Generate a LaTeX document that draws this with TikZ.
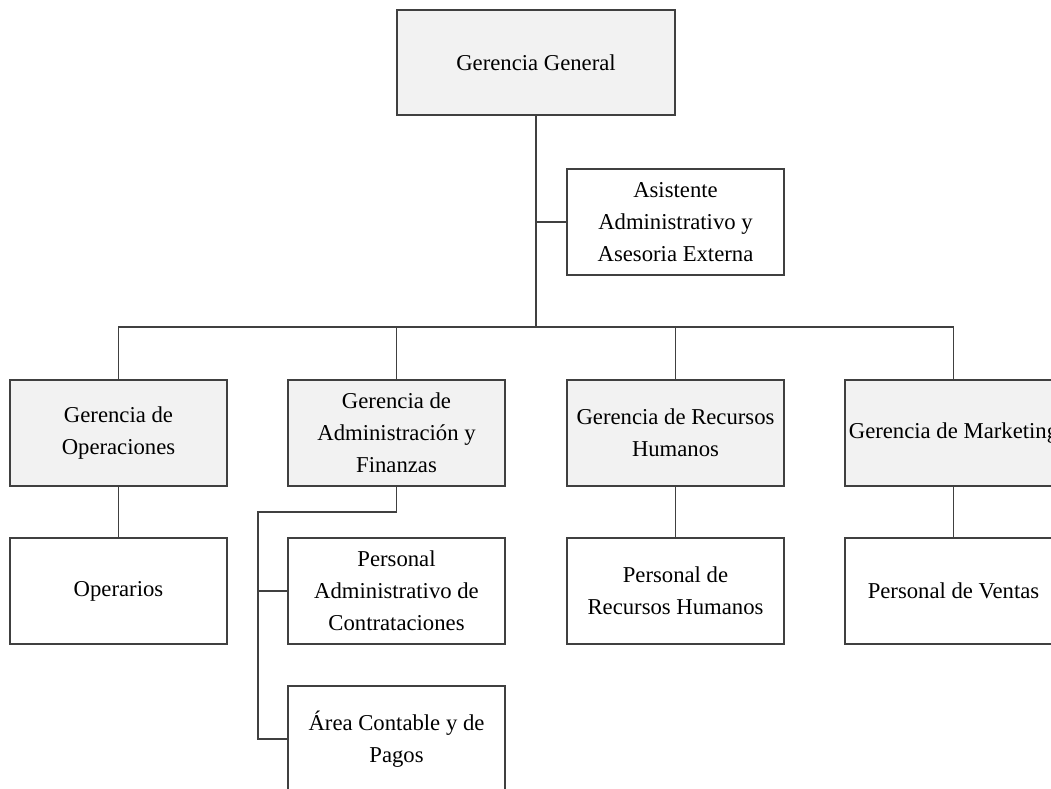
\documentclass[tikz,border=0pt]{standalone}
\usepackage{fontspec}
\setmainfont{Liberation Serif}
\definecolor{boxgray}{HTML}{F2F2F2}
\definecolor{linegray}{HTML}{404040}

\begin{document}
\begin{tikzpicture}[x=1pt,y=-1pt,
    every node/.style={draw=linegray,line width=1.5pt,inner sep=0pt,
      align=center,font=\fontsize{22.7}{32}\selectfont},
    gbox/.style={fill=boxgray,minimum width=217pt,minimum height=106pt},
    wbox/.style={fill=white,minimum width=217pt,minimum height=106pt}]
      \useasboundingbox (0,0) rectangle (1051,788) ;
      \clip (0,0) rectangle (1051,788) ;
      \node[gbox,minimum width=278pt,minimum height=105pt] (GG) at (536,62.5) {Gerencia General} ;
      \node[wbox] (AS) at (675.5,222) {Asistente\\Administrativo y\\Asesoria Externa} ;
      % segundo nivel
      \node[gbox] (GO) at (118.5,433) {Gerencia de\\Operaciones} ;
      \node[gbox] (GA) at (396.5,433) {Gerencia de\\Administración y\\Finanzas} ;
      \node[gbox] (GR) at (675.5,433) {Gerencia de Recursos\\Humanos} ;
      \node[gbox] (GM) at (953.5,433) {Gerencia de Marketing} ;
      % tercer nivel
      \node[wbox] (OP) at (118.5,591) {Operarios} ;
      \node[wbox] (PA) at (396.5,591) {Personal\\Administrativo de\\Contrataciones} ;
      \node[wbox] (PR) at (675.5,591) {Personal de\\Recursos Humanos} ;
      \node[wbox] (PV) at (953.5,591) {Personal de Ventas} ;
      \node[wbox] (AC) at (396.5,739) {Área Contable y de\\Pagos} ;
      \coordinate (bus) at (536,327) ;
      \coordinate (lane) at (258,512) ;
      \begin{scope}[draw=linegray,line width=1.5pt]
      \draw (GG.south) -- (bus) ;
      \draw (AS.west) -- (AS.west -| bus) ;
      \draw (GO.north) |- (GM.north |- bus) -- (GM.north) ;
      \draw (GA.north) -- (GA.north |- bus) ;
      \draw (GR.north) -- (GR.north |- bus) ;
      \draw (GO.south) -- (OP.north) ;
      \draw (GR.south) -- (PR.north) ;
      \draw (GM.south) -- (PV.north) ;
      \draw (GA.south) |- (lane) |- (AC.west) ;
      \draw (lane |- PA.west) -- (PA.west) ;
      \end{scope}
    \end{tikzpicture}
\end{document}
